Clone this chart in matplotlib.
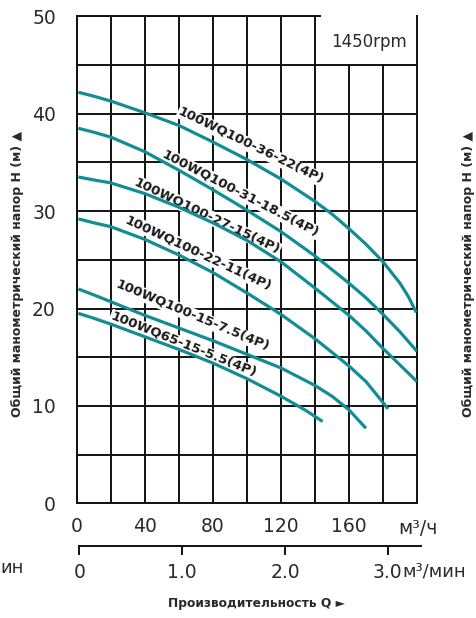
import numpy as np
import matplotlib.pyplot as plt
from matplotlib.patches import Rectangle

plt.rcParams['font.family'] = ['DejaVu Sans']

# head curves, Q in m3/h, H in m
q_36 = [1, 10, 20, 40, 60, 80, 100, 120, 140, 150, 160, 170, 180, 190, 195, 199.5]
h_36 = [42.2, 41.8, 41.3, 40.1, 38.8, 37.1, 35.3, 33.3, 31.0, 29.7, 28.2, 26.6, 24.8, 22.6, 21.2, 19.6]
q_31 = [1, 10, 20, 40, 60, 80, 100, 120, 140, 160, 170, 180, 190, 200]
h_31 = [38.5, 38.1, 37.6, 36.1, 34.2, 32.2, 30.1, 27.9, 25.4, 22.6, 21.1, 19.4, 17.6, 15.6]
q_27 = [1, 10, 20, 40, 60, 80, 100, 120, 140, 160, 170, 180, 190, 200]
h_27 = [33.5, 33.2, 32.9, 31.8, 30.4, 28.8, 27.0, 24.8, 22.1, 19.3, 17.7, 15.9, 14.2, 12.5]
q_22 = [1, 10, 20, 40, 60, 80, 100, 120, 140, 160, 170, 183]
h_22 = [29.2, 28.8, 28.4, 27.1, 25.5, 23.7, 21.6, 19.4, 16.9, 14.1, 12.5, 9.7]
q_15 = [1, 10, 20, 40, 60, 80, 100, 120, 140, 150, 160, 170]
h_15 = [22.0, 21.4, 20.7, 19.3, 18.0, 16.7, 15.3, 13.9, 12.1, 11.0, 9.6, 7.7]
q_65 = [1, 10, 20, 40, 60, 80, 100, 120, 135, 144.5]
h_65 = [19.5, 19.0, 18.4, 17.1, 15.8, 14.4, 12.8, 11.0, 9.5, 8.4]

names = ['100WQ100-36-22(4P)', '100WQ100-31-18.5(4P)', '100WQ100-27-15(4P)',
         '100WQ100-22-11(4P)', '100WQ100-15-7.5(4P)', '100WQ65-15-5.5(4P)']
curves = [(q_36, h_36), (q_31, h_31), (q_27, h_27), (q_22, h_22), (q_15, h_15), (q_65, h_65)]
# where the names sit (data coords) and their slant
lab_xy = [(102.4, 36.7), (96.5, 31.8), (76.6, 29.5), (71.5, 25.7), (68.0, 19.3), (62.7, 16.3)]
lab_rot = [-25.8, -27.3, -25.5, -25.0, -22.7, -21.8]

q_ticks = [0, 40, 80, 120, 160]
h_ticks = [0, 10, 20, 30, 40, 50]
qmin_ticks = [0, 1.0, 2.0, 3.0]
qmin_labels = ['0', '1.0', '2.0', '3.0']

teal = '#138d95'
ink = '#2a2a2a'
W, H = 477, 618

fig = plt.figure(figsize=(W/100, H/100), dpi=100)
ax = fig.add_axes([76.7/W, 1-503.3/H, 340.3/W, 487.0/H])
ax.set_xlim(0, 200)
ax.set_ylim(0, 50)

ax.set_xticks(q_ticks)
ax.set_xticks(np.arange(20, 201, 40), minor=True)
ax.set_yticks(h_ticks)
ax.set_yticks(np.arange(5, 50, 10), minor=True)
ax.set_xticklabels([str(v) for v in q_ticks])
ax.tick_params(which='both', length=0)
ax.tick_params(axis='x', pad=10, labelsize=13.5, labelcolor=ink)
ax.tick_params(axis='y', pad=15, labelsize=13.5, labelcolor=ink)
ax.grid(which='both', color='#111111', lw=1.4, zorder=1)
ax.set_axisbelow(True)
for s in ax.spines.values():
    s.set_linewidth(1.4)
    s.set_color('#111111')

# white patch behind the speed note
ax.add_patch(Rectangle((143.5, 45.15), 55.9, 5.6, facecolor='white', edgecolor='none',
                       zorder=2.6, clip_on=False))
ax.text(172, 47.4, '1450rpm', fontsize=12, color=ink, ha='center', va='center', zorder=3)

for (q, h), nm, (lx, ly), r in zip(curves, names, lab_xy, lab_rot):
    ax.plot(q, h, color=teal, lw=2.3, solid_capstyle='butt', solid_joinstyle='round', zorder=3)
    ax.text(lx, ly, nm, rotation=r, rotation_mode='anchor', ha='center', va='center',
            fontsize=9.5, fontweight='bold', color='#1a1a1a', zorder=2.5,
            bbox=dict(boxstyle='square,pad=0.05', fc='white', ec='none'))

# second flow scale in m3/min
ax2 = fig.add_axes([79.3/W, 1-546/H, 341.4/W, 0.0001])
ax2.set_xlim(0, 3.32)
ax2.set_yticks([])
for k in ['top', 'left', 'right']:
    ax2.spines[k].set_visible(False)
ax2.spines['bottom'].set_linewidth(1.4)
ax2.spines['bottom'].set_color('#111111')
ax2.set_xticks(qmin_ticks)
ax2.set_xticklabels(qmin_labels)
ax2.set_xticks([0], minor=True)
ax2.tick_params(axis='x', which='major', direction='out', length=6.5, width=1.4,
                color='#111111', pad=6, labelsize=13.5, labelcolor=ink)
ax2.tick_params(axis='x', which='minor', direction='in', length=6.5, width=1.4, color='#111111')
ax2.patch.set_visible(False)

fig.text(418/W, 1-528/H, 'м³/ч', fontsize=13.5, color=ink, ha='center', va='center')
fig.text(402/W, 1-571.5/H, 'м³/мин', fontsize=13, color=ink, ha='left', va='center')
fig.text(0.5/W, 1-568/H, 'ин', fontsize=13, color=ink, ha='left', va='center')
fig.text(257/W, 1-603/H, 'Производительность Q ►', fontsize=8.8, fontweight='bold',
         color=ink, ha='center', va='center')

ylab = 'Общий манометрический напор H (м) ▲'
fig.text(18/W, 1-274/H, ylab, rotation=90, fontsize=9, fontweight='bold', color=ink,
         ha='center', va='center')
fig.text(469/W, 1-274/H, ylab, rotation=90, fontsize=9, fontweight='bold', color=ink,
         ha='center', va='center')

fig.savefig('out.png', dpi=100)
